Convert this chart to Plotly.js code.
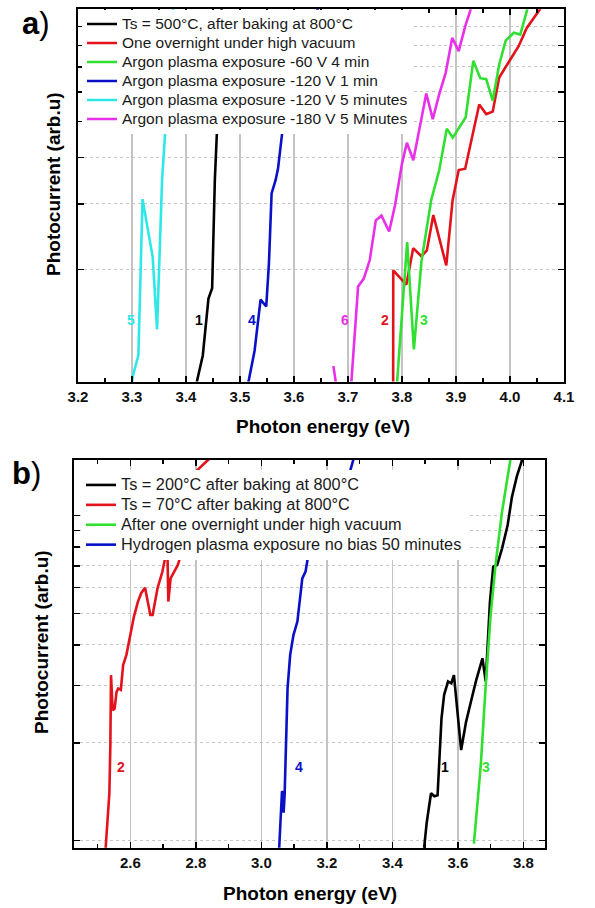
<!DOCTYPE html>
<html>
<head>
<meta charset="utf-8">
<script src="https://cdn.plot.ly/plotly-3.0.1.min.js"></script>
<style>html,body{margin:0;padding:0;background:#fff;}#chart{width:595px;height:908px;}</style>
</head>
<body>
<div id="chart"></div>
<script>
// ---------- Panel a) data : photon energy (eV) / photocurrent (arb.u) ----------
const a_names = [
  "Ts = 500°C, after baking at 800°C",
  "One overnight under high vacuum",
  "Argon plasma exposure -60 V 4 min",
  "Argon plasma exposure -120 V 1 min",
  "Argon plasma exposure -120 V 5 minutes",
  "Argon plasma exposure -180 V 5 Minutes"
];
const a1_E = [3.419, 3.4206, 3.4311, 3.4354, 3.4391, 3.4416, 3.4484, 3.4497, 3.4509, 3.4534, 3.4575, 3.462, 3.468];
const a1_I = [0.95, 1.006, 1.175, 1.37, 1.586, 1.67, 1.78, 2.08, 2.83, 3.48, 4.76, 7.0, 12];
const a2_E = [3.7836, 3.7838, 3.808, 3.8207, 3.836, 3.846, 3.858, 3.882, 3.8937, 3.905, 3.917, 3.929, 3.943, 3.956, 3.968, 3.980, 3.995, 4.016, 4.031, 4.046, 4.055, 4.07];
const a2_I = [0.8, 1.99, 1.82, 2.28, 2.17, 2.25, 2.80, 2.05, 3.07, 3.70, 3.73, 4.44, 5.55, 5.23, 5.31, 6.56, 7.11, 7.96, 8.91, 9.57, 9.98, 11.5];
const a3_E = [3.789, 3.791, 3.8096, 3.822, 3.836, 3.854, 3.869, 3.883, 3.894, 3.918, 3.932, 3.945, 3.956, 3.968, 3.980, 3.992, 4.007, 4.019, 4.031, 4.04];
const a3_I = [0.9, 1.0, 2.37, 1.22, 2.10, 3.07, 3.70, 4.78, 4.52, 5.13, 7.27, 6.53, 6.49, 5.68, 7.11, 8.24, 8.65, 8.55, 9.87, 11.5];
const a4_E = [3.514, 3.5158, 3.527, 3.5381, 3.5486, 3.5536, 3.5585, 3.566, 3.5705, 3.5788, 3.61, 3.645, 3.66];
const a4_I = [0.95, 1.0, 1.21, 1.66, 1.59, 2.08, 3.2, 3.48, 3.74, 4.75, 7.5, 10.2, 11.5];
const a5_E = [3.30, 3.3012, 3.3118, 3.3195, 3.3383, 3.3464, 3.3557, 3.362, 3.37, 3.378];
const a5_I = [0.97, 1.03, 1.175, 3.09, 2.16, 1.38, 3.48, 4.8, 7.5, 11];
const a6_E = [3.673, 3.69, 3.7063, 3.7187, 3.7292, 3.7403, 3.7515, 3.762, 3.7762, 3.787, 3.80, 3.809, 3.821, 3.833, 3.845, 3.857, 3.869, 3.881, 3.893, 3.905, 3.917, 3.926, 3.935];
const a6_I = [1.10, 0.75, 1.0, 1.80, 1.89, 2.12, 2.71, 2.79, 2.53, 2.97, 3.85, 4.38, 3.93, 4.82, 5.94, 5.07, 5.92, 6.76, 8.38, 7.72, 9.0, 9.87, 11.5];
const a_labels = ["5", "1", "4", "6", "2", "3"];
const a_label_E = [3.298, 3.4237, 3.522, 3.694, 3.768, 3.841];
const a_label_I = [1.46, 1.46, 1.46, 1.46, 1.46, 1.46];

// ---------- Panel b) data ----------
const b_names = [
  "Ts = 200°C after baking at 800°C",
  "Ts = 70°C after baking at 800°C",
  "After one overnight under high vacuum",
  "Hydrogen plasma exposure no bias 50 minutes"
];
const b1_E = [3.496, 3.505, 3.518, 3.528, 3.538, 3.55, 3.558, 3.57, 3.58, 3.588, 3.61, 3.625, 3.64, 3.655, 3.675, 3.685, 3.698, 3.708, 3.72, 3.735, 3.752, 3.765, 3.78, 3.795, 3.80];
const b1_I = [0.93, 1.14, 1.40, 1.37, 1.38, 2.38, 2.81, 3.09, 3.05, 3.23, 1.90, 2.32, 2.68, 3.09, 3.64, 3.09, 5.44, 6.97, 7.05, 7.93, 9.36, 11.4, 13.2, 14.7, 16];
const b2_E = [2.524, 2.528, 2.536, 2.539, 2.541, 2.546, 2.552, 2.558, 2.563, 2.571, 2.578, 2.588, 2.594, 2.603, 2.611, 2.623, 2.633, 2.645, 2.661, 2.668, 2.683, 2.698, 2.708, 2.712, 2.716, 2.723, 2.738, 2.745, 2.755, 2.77, 2.785, 2.798, 2.833, 2.863];
const b2_I = [0.93, 1.10, 1.40, 1.97, 3.23, 2.52, 2.55, 2.87, 2.94, 2.91, 3.47, 3.73, 4.0, 4.5, 4.89, 5.43, 5.77, 6.0, 4.95, 4.95, 5.98, 6.73, 7.57, 9.2, 5.44, 6.41, 6.8, 7.05, 7.6, 10, 12.5, 13.6, 14.7, 15.6];
const b3_E = [3.649, 3.67, 3.685, 3.70, 3.715, 3.735, 3.76, 3.77];
const b3_I = [0.98, 1.71, 3.01, 4.94, 7.05, 10.3, 14.8, 17.8];
const b4_E = [3.054, 3.058, 3.062, 3.063, 3.067, 3.068, 3.071, 3.075, 3.08, 3.088, 3.098, 3.11, 3.118, 3.125, 3.135, 3.14, 3.15, 3.2, 3.25, 3.27, 3.29];
const b4_I = [0.93, 1.1, 1.30, 1.42, 1.40, 1.22, 1.38, 2.02, 2.94, 3.73, 4.29, 4.72, 5.44, 6.41, 6.73, 7.22, 8.3, 10.5, 12.5, 13.6, 16];
const b_labels = ["1", "2", "3", "4"];
const b_label_E = [3.562, 2.571, 3.685, 3.115];
const b_label_I = [1.69, 1.69, 1.69, 1.69];

// ---------- styling ----------
const FONT = "Liberation Sans, Arial, Helvetica, sans-serif";
const COL = {black: "#000000", red: "#e3121b", green: "#30e030", blue: "#0a10c8", cyan: "#2ee8e8", magenta: "#e830e8"};
const W = 595, H = 908;
const px = v => v / W;
const py = v => 1 - v / H;

function tr(E, I, name, color, xa, ya, leg, fs) {
  return {
    x: E, y: I, type: "scatter", mode: "lines",
    name: '<span style="font-size:' + fs + 'px">' + name + '</span>',
    line: {color: color, width: 2.6},
    xaxis: xa, yaxis: ya, legend: leg, hoverinfo: "skip"
  };
}

const data = [
  tr(a1_E, a1_I, a_names[0], COL.black, "x", "y", "legend", 15.5),
  tr(a2_E, a2_I, a_names[1], COL.red, "x", "y", "legend", 15.5),
  tr(a3_E, a3_I, a_names[2], COL.green, "x", "y", "legend", 15.5),
  tr(a4_E, a4_I, a_names[3], COL.blue, "x", "y", "legend", 15.5),
  tr(a5_E, a5_I, a_names[4], COL.cyan, "x", "y", "legend", 15.5),
  tr(a6_E, a6_I, a_names[5], COL.magenta, "x", "y", "legend", 15.5),
  tr(b1_E, b1_I, b_names[0], COL.black, "x2", "y2", "legend2", 16.3),
  tr(b2_E, b2_I, b_names[1], COL.red, "x2", "y2", "legend2", 16.3),
  tr(b3_E, b3_I, b_names[2], COL.green, "x2", "y2", "legend2", 16.3),
  tr(b4_E, b4_I, b_names[3], COL.blue, "x2", "y2", "legend2", 16.3)
];

const tickFont = {family: FONT, size: 15, color: "#111", weight: "bold"};
function xax(domain, range, dtick, tick0, minorD) {
  return {
    domain: domain, range: range, dtick: dtick, tick0: tick0, tickformat: ".1f",
    showgrid: true, gridcolor: "#c4c4c4", gridwidth: 1.4,
    showline: true, linecolor: "#000", linewidth: 2, mirror: "ticks",
    ticks: "inside", ticklen: 6, tickwidth: 1.5, tickcolor: "#000",
    minor: {dtick: minorD, tick0: tick0, ticks: "inside", ticklen: 3.5, tickwidth: 1.5, tickcolor: "#000", showgrid: false},
    tickfont: tickFont, zeroline: false, fixedrange: true
  };
}
function yax(domain, range, anchor) {
  return {
    domain: domain, type: "log", range: range, dtick: "D1", anchor: anchor,
    showticklabels: false,
    showgrid: true, gridcolor: "#c6c6c6", gridwidth: 1, griddash: "dot",
    showline: true, linecolor: "#000", linewidth: 2, mirror: "ticks",
    ticks: "inside", ticklen: 6, tickwidth: 1.5, tickcolor: "#000",
    zeroline: false, fixedrange: true
  };
}

const ann = [];
function lab(txt, x, y, color, xr, yr) {
  ann.push({text: "<b>" + txt + "</b>", x: x, y: Math.log10(y), xref: xr, yref: yr,
    xanchor: "center", yanchor: "middle",
    showarrow: false, font: {family: FONT, size: 14, color: color}});
}
const aCols = [COL.cyan, COL.black, COL.blue, COL.magenta, COL.red, COL.green];
a_labels.forEach((t, i) => lab(t, a_label_E[i], a_label_I[i], aCols[i], "x", "y"));
const bCols = [COL.black, COL.red, COL.green, COL.blue];
b_labels.forEach((t, i) => lab(t, b_label_E[i], b_label_I[i], bCols[i], "x2", "y2"));

function paperText(txt, x, y, size, angle, xa) {
  ann.push({text: txt, xref: "paper", yref: "paper", x: px(x), y: py(y),
    xanchor: xa || "center", yanchor: "middle", textangle: angle || 0,
    showarrow: false, font: {family: FONT, size: size, color: "#000"}});
}
// panel letters & axis titles
paperText("<b>a</b>)", 20, 23, 31, 0, "left");
paperText("<b>b</b>)", 10, 473, 31, 0, "left");
paperText("<b>Photocurrent (arb.u)</b>", 53, 184, 19, -90);
paperText("<b>Photocurrent (arb.u)</b>", 41, 642, 19, -90);
paperText("<b>Photon energy (eV)</b>", 323, 427, 19);
paperText("<b>Photon energy (eV)</b>", 310, 893, 19);

const layout = {
  width: W, height: H,
  margin: {l: 0, r: 0, t: 0, b: 0},
  paper_bgcolor: "#fff", plot_bgcolor: "#fff",
  font: {family: FONT, color: "#111"},
  xaxis: Object.assign(xax([px(78), px(564)], [3.2, 4.1], 0.1, 3.2, 0.05), {anchor: "y"}),
  yaxis: yax([py(381.5), py(9.3)], [0, 1.0], "x"),
  xaxis2: Object.assign(xax([px(74), px(545)], [2.428, 3.866], 0.2, 2.6, 0.1), {anchor: "y2"}),
  yaxis2: yax([py(847.7), py(460)], [-0.0215, 1.171], "x2"),
  showlegend: true,
  legend: {x: px(82), y: py(9.5), xanchor: "left", yanchor: "top", bgcolor: "#ffffff", borderwidth: 0,
    font: {family: FONT, size: 12, color: "#1a1a1a"}, tracegroupgap: 0, itemwidth: 30},
  legend2: {x: px(81), y: py(470), xanchor: "left", yanchor: "top", bgcolor: "#ffffff", borderwidth: 0,
    font: {family: FONT, size: 13, color: "#1a1a1a"}, tracegroupgap: 0, itemwidth: 30},
  annotations: ann
};

Plotly.newPlot("chart", data, layout, {displayModeBar: false, staticPlot: true});
</script>
</body>
</html>
